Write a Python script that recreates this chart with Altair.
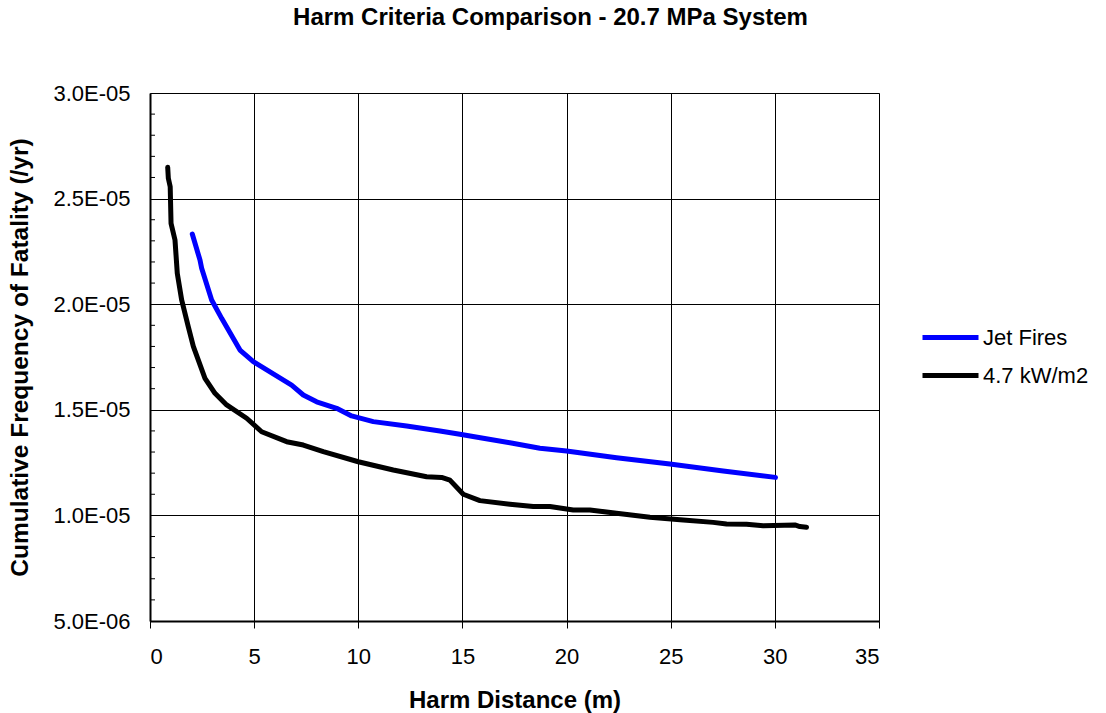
import altair as alt
import pandas as pd

# Harm distance (m) vs cumulative frequency of fatality (/yr)
jet_x = [2.03, 2.4, 2.48, 2.96, 3.44, 4.32, 4.96, 6.8, 7.36, 8.0, 8.96, 9.68,
         10.72, 12.32, 13.92, 14.88, 16.0, 17.28, 18.72, 20.0, 22.4, 24.96,
         27.52, 30.03]
jet_y = [2.332e-5, 2.209e-5, 2.17e-5, 2.02e-5, 1.933e-5, 1.783e-5, 1.728e-5,
         1.617e-5, 1.57e-5, 1.538e-5, 1.507e-5, 1.471e-5, 1.444e-5, 1.423e-5,
         1.40e-5, 1.384e-5, 1.365e-5, 1.344e-5, 1.318e-5, 1.305e-5, 1.273e-5,
         1.243e-5, 1.21e-5, 1.18e-5]

kw_x = [0.85, 0.88, 0.97, 1.01, 1.2, 1.31, 1.52, 1.84, 2.08, 2.64, 3.12, 3.68,
        4.64, 5.36, 6.56, 7.36, 8.32, 10.0, 11.68, 13.28, 14.0, 14.4, 15.04,
        15.84, 17.28, 18.4, 19.2, 20.32, 21.12, 22.4, 24.0, 25.6, 27.04, 27.68,
        28.64, 29.44, 30.96, 31.2, 31.52]
kw_y = [2.648e-5, 2.596e-5, 2.556e-5, 2.383e-5, 2.304e-5, 2.146e-5, 2.02e-5,
        1.893e-5, 1.80e-5, 1.649e-5, 1.578e-5, 1.523e-5, 1.46e-5, 1.396e-5,
        1.349e-5, 1.333e-5, 1.302e-5, 1.254e-5, 1.215e-5, 1.183e-5, 1.18e-5,
        1.167e-5, 1.10e-5, 1.07e-5, 1.053e-5, 1.042e-5, 1.042e-5, 1.026e-5,
        1.026e-5, 1.01e-5, 0.991e-5, 0.978e-5, 0.967e-5, 0.959e-5, 0.958e-5,
        0.951e-5, 0.955e-5, 0.947e-5, 0.944e-5]

series_names = ["Jet Fires", "4.7 kW/m2"]
series_colors = ["#0000FF", "#000000"]

x_ticks = [0, 5, 10, 15, 20, 25, 30, 35]
y_ticks = [5e-6, 1e-5, 1.5e-5, 2e-5, 2.5e-5, 3e-5]
y_minor = [v * 1e-6 for v in range(6, 30) if v % 5 != 0]

FONT = "Liberation Sans"

df = pd.concat([
    pd.DataFrame({"x": jet_x, "y": jet_y, "series": series_names[0]}),
    pd.DataFrame({"x": kw_x, "y": kw_y, "series": series_names[1]}),
])
minor_df = pd.DataFrame({"y": y_minor})

x_scale = alt.Scale(domain=[0, 35], nice=False, zero=False)
y_scale = alt.Scale(domain=[5e-6, 3e-5], nice=False, zero=False)

# scientific labels in the 3.0E-05 style
sci_label = ("replace(replace(format(datum.value, '.1e'), 'e-5', 'E-05'), "
             "'e-6', 'E-06')")

lines = alt.Chart(df).mark_line(strokeWidth=5, strokeCap="round", strokeJoin="round").encode(
    x=alt.X("x:Q", scale=x_scale,
            axis=alt.Axis(values=x_ticks, title="Harm Distance (m)", format="d",
                          grid=True, gridColor="#000000", gridWidth=1, gridOpacity=1,
                          domainColor="#000000", domainWidth=2,
                          tickColor="#000000", tickSize=7, tickWidth=1,
                          labelFont=FONT, labelFontSize=22, labelColor="#000000",
                          labelBaseline="alphabetic", labelPadding=35,
                          titleFont=FONT, titleFontSize=24, titleFontWeight="bold",
                          titleColor="#000000", titleBaseline="alphabetic",
                          titleY=86)),
    y=alt.Y("y:Q", scale=y_scale,
            axis=alt.Axis(values=y_ticks, title="Cumulative Frequency of Fatality (/yr)",
                          labelExpr=sci_label,
                          grid=True, gridColor="#000000", gridWidth=1, gridOpacity=1,
                          domainColor="#000000", domainWidth=2,
                          ticks=False, labelPadding=20,
                          labelFont=FONT, labelFontSize=22, labelColor="#000000",
                          titleFont=FONT, titleFontSize=24.5, titleFontWeight="bold",
                          titleColor="#000000", titleBaseline="middle",
                          titleX=-130, titleY=264, titleAngle=-90)),
    color=alt.Color("series:N",
                    scale=alt.Scale(domain=series_names, range=series_colors),
                    sort=series_names,
                    legend=alt.Legend(title=None, orient="none", legendX=788, legendY=232,
                                      symbolType="M-2.8,0L2.8,0", symbolSize=400,
                                      symbolStrokeWidth=5, labelOffset=20,
                                      labelFont=FONT, labelFontSize=22, labelColor="#000000",
                                      rowPadding=14)),
)

minor_ticks = alt.Chart(minor_df).mark_rule(color="#000000", strokeWidth=1).encode(
    y=alt.Y("y:Q", scale=y_scale),
    x=alt.value(0),
    x2=alt.value(5),
)

chart = alt.layer(minor_ticks, lines).properties(
    width=729,
    height=528,
    title=alt.TitleParams("Harm Criteria Comparison - 20.7 MPa System",
                          font=FONT, fontSize=24, fontWeight="bold", color="#000000",
                          anchor="middle", baseline="alphabetic", offset=33, dx=36),
    padding={"left": 150, "top": 93, "right": 227, "bottom": 92},
    autosize=alt.AutoSizeParams(type="none"),
).configure_view(
    stroke="#000000", strokeWidth=1,
).configure(background="#ffffff")

chart.save("out.html", embed_options={"renderer": "svg", "actions": False})
